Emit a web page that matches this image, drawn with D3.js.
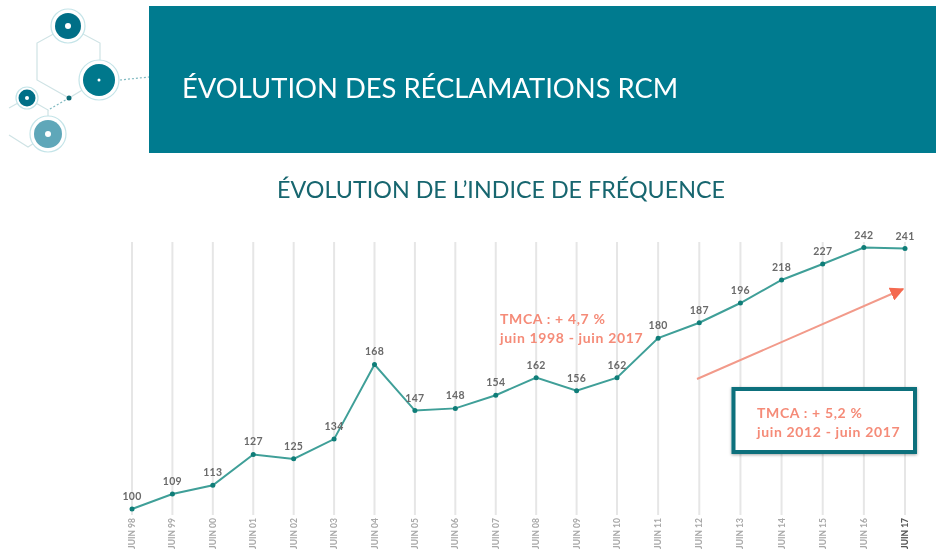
<!DOCTYPE html>
<html>
<head>
<meta charset="utf-8">
<title>Évolution des réclamations RCM</title>
<script src="https://d3js.org/d3.v7.min.js"></script>
<style>
  body { margin: 0; background: #fff; }
  svg { display: block; filter: blur(0.6px); }
  text { font-family: Lato, sans-serif; }
</style>
</head>
<body>
<div id="chart"></div>
<script>
// values printed on the chart
var periods = ["JUIN 98","JUIN 99","JUIN 00","JUIN 01","JUIN 02","JUIN 03","JUIN 04","JUIN 05","JUIN 06","JUIN 07","JUIN 08","JUIN 09","JUIN 10","JUIN 11","JUIN 12","JUIN 13","JUIN 14","JUIN 15","JUIN 16","JUIN 17"];
var indice = [100,109,113,127,125,134,168,147,148,154,162,156,162,180,187,196,218,227,242,241];

var width = 936, height = 557;
var teal = "#007b8f", coral = "#f58b78";

var svg = d3.select("#chart").append("svg")
  .attr("width", width)
  .attr("height", height);

var defs = svg.append("defs");
defs.append("filter").attr("id", "shadow")
  .append("feDropShadow")
  .attr("dx", 0).attr("dy", 1).attr("stdDeviation", 1.5)
  .attr("flood-color", "#000").attr("flood-opacity", 0.35);
defs.append("marker")
  .attr("id", "head")
  .attr("viewBox", "0 0 10 10")
  .attr("refX", 9).attr("refY", 5)
  .attr("markerUnits", "userSpaceOnUse")
  .attr("markerWidth", 14).attr("markerHeight", 14)
  .attr("orient", "auto")
  .append("path")
  .attr("d", "M0,0L10,5L0,10Z")
  .attr("fill", "#f4694f");

// logo, top left
var logo = svg.append("g");
var logoLines = [
  [[68,26],[37,43],[37,80],[69,98],[99,80]],
  [[68,26],[100,43],[100,80]],
  [[9,108],[27,98],[48,110],[48,134]],
  [[9,135],[28,147],[48,134]]
];
logoLines.forEach(function(l) {
  logo.append("path")
    .attr("d", d3.line()(l))
    .attr("fill", "none")
    .attr("stroke", "#cfe3e5")
    .attr("stroke-width", 1.2);
});
var logoDots = [
  [[120,80],[149,77]],
  [[69,98],[48,110]]
];
logoDots.forEach(function(l) {
  logo.append("path")
    .attr("d", d3.line()(l))
    .attr("fill", "none")
    .attr("stroke", "#7fb9c0")
    .attr("stroke-width", 1.2)
    .attr("stroke-dasharray", "2 2");
});
logo.append("circle").attr("cx", 69).attr("cy", 98).attr("r", 2.5).attr("fill", "#0b6a75");
var logoCircles = [
  {x: 68, y: 26, r: 13, ring: 17, dot: 3, c: "#006f87"},
  {x: 99, y: 80, r: 16, ring: 20, dot: 1.5, c: "#00788c"},
  {x: 27, y: 98, r: 8.5, ring: 11, dot: 2, c: "#006f87"},
  {x: 48, y: 134, r: 14, ring: 18, dot: 3, c: "#5fa7b9"}
];
logoCircles.forEach(function(d) {
  logo.append("circle").attr("cx", d.x).attr("cy", d.y).attr("r", d.ring)
    .attr("fill", "#fff").attr("stroke", "#c4e4e8").attr("stroke-width", 1.2);
  logo.append("circle").attr("cx", d.x).attr("cy", d.y).attr("r", d.r).attr("fill", d.c);
  logo.append("circle").attr("cx", d.x).attr("cy", d.y).attr("r", d.dot).attr("fill", "#fff");
});

// banner
svg.append("rect")
  .attr("x", 149).attr("y", 6)
  .attr("width", width - 149).attr("height", 147)
  .attr("fill", teal);
svg.append("text")
  .attr("x", 182).attr("y", 98)
  .attr("fill", "#fff")
  .style("font-size", "27.4px")
  .text("ÉVOLUTION DES RÉCLAMATIONS RCM");
svg.append("text")
  .attr("x", 501).attr("y", 198)
  .attr("text-anchor", "middle")
  .attr("fill", "#17666f")
  .style("font-size", "23.3px")
  .text("ÉVOLUTION DE L’INDICE DE FRÉQUENCE");

// scales : the original drawing is neither regular nor proportional, so both have stops
var x = d3.scaleLinear().domain([0, 12, 19]).range([132, 617, 905]);
var y = d3.scaleLinear()
  .domain([100, 109, 196, 218, 227, 242])
  .range([509, 494, 303, 280, 264, 247.5]);

// vertical grid
svg.append("g").selectAll("line")
  .data(periods)
  .enter().append("line")
    .attr("x1", function(d, i) { return x(i); })
    .attr("x2", function(d, i) { return x(i); })
    .attr("y1", 242)
    .attr("y2", 515)
    .attr("stroke", "#e6e6e6")
    .attr("stroke-width", 2);

// tick labels, rotated
svg.append("g").selectAll("text")
  .data(periods)
  .enter().append("text")
    .attr("transform", function(d, i) { return "translate(" + (x(i) + 3) + ",549) rotate(-90)"; })
    .attr("fill", function(d, i) { return i == periods.length - 1 ? "#555" : "#a8a8a8"; })
    .style("font-size", "8.5px")
    .style("font-weight", function(d, i) { return i == periods.length - 1 ? 900 : 700; })
    .text(function(d) { return d; });

// the line
var line = d3.line()
  .x(function(d, i) { return x(i); })
  .y(function(d) { return y(d); });

svg.append("path")
  .datum(indice)
  .attr("d", line)
  .attr("fill", "none")
  .attr("stroke", "#3f9f98")
  .attr("stroke-width", 2);

svg.append("g").selectAll("circle")
  .data(indice)
  .enter().append("circle")
    .attr("cx", function(d, i) { return x(i); })
    .attr("cy", function(d) { return y(d); })
    .attr("r", 2.5)
    .attr("fill", "#0f7d78");

svg.append("g").selectAll("text")
  .data(indice)
  .enter().append("text")
    .attr("x", function(d, i) { return x(i); })
    .attr("y", function(d) { return y(d) - 9; })
    .attr("text-anchor", "middle")
    .attr("fill", "#6a6a6a")
    .style("font-size", "10.5px")
    .style("font-weight", 700)
    .style("letter-spacing", "0.3px")
    .text(function(d) { return d; });

// arrow + first note
svg.append("line")
  .attr("x1", 697).attr("y1", 379)
  .attr("x2", 903).attr("y2", 289)
  .attr("stroke", "#f29a8a")
  .attr("stroke-width", 2)
  .attr("marker-end", "url(#head)");

function note(lines, px, py) {
  lines.forEach(function(t, i) {
    svg.append("text")
      .attr("x", px).attr("y", py + i * 19)
      .attr("fill", coral)
      .style("font-size", "14px")
      .style("font-weight", 700)
      .style("letter-spacing", "0.65px")
      .text(t);
  });
}
note(["TMCA : + 4,7 %", "juin 1998 - juin 2017"], 500, 324);

// boxed note
svg.append("rect")
  .attr("x", 733.5).attr("y", 389)
  .attr("width", 181.5).attr("height", 63)
  .attr("fill", "#fff")
  .attr("stroke", "#0d6f7b")
  .attr("stroke-width", 4)
  .attr("filter", "url(#shadow)");
note(["TMCA : + 5,2 %", "juin 2012 - juin 2017"], 757, 418);
</script>
</body>
</html>
